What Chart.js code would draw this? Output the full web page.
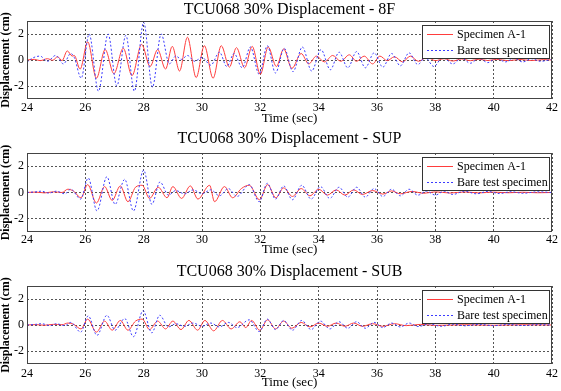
<!DOCTYPE html>
<html><head><meta charset="utf-8">
<script src="https://cdn.jsdelivr.net/npm/chart.js@4.4.1/dist/chart.umd.min.js"></script>
<style>
html,body{margin:0;padding:0;background:#fff;}
#wrap{position:relative;width:561px;height:391px;overflow:hidden;background:#fff;}
.panel{position:absolute;left:0;width:561px;}
canvas{display:block;}
</style></head><body>
<div id="wrap">
  <div class="panel" style="top:0px;height:128px"><canvas id="c1" width="561" height="128"></canvas></div>
  <div class="panel" style="top:128px;height:132px"><canvas id="c2" width="561" height="132"></canvas></div>
  <div class="panel" style="top:260px;height:131px"><canvas id="c3" width="561" height="131"></canvas></div>
</div>
<script>
// ---------- DATA ----------
const panelTitles = ['TCU068 30% Displacement - 8F', 'TCU068 30% Displacement - SUP', 'TCU068 30% Displacement - SUB'];
const seriesLabels = ['Specimen A-1', 'Bare test specimen'];
const xLabel = 'Time (sec)';
const yLabel = 'Displacement (cm)';
const timeTicks = [24, 26, 28, 30, 32, 34, 36, 38, 40, 42];
const dispTicks = [-2, 0, 2];

// 8F - Specimen A-1
const t8F_A = [24.0,24.25,24.45,24.7,24.88,25.05,25.2,25.38,25.55,25.62,25.82,26.08,26.38,26.68,26.98,27.3,27.6,27.93,28.22,28.48,28.75,28.98,29.23,29.5,29.8,30.08,30.38,30.66,30.94,31.18,31.46,31.72,32.0,32.27,32.55,32.8,33.08,33.4,33.66,33.92,34.2,34.48,34.76,35.05,35.3,35.56,35.85,36.1,36.35,36.6,36.88,37.14,37.42,37.72,38.0,38.3,38.6,38.9,39.2,39.5,39.8,40.1,40.5,40.9,41.3,41.7,42.0];
const d8F_A = [0,0.05,-0.05,0.1,-0.02,0.25,-0.05,0.7,0.3,0.35,-0.7,1.4,-1.4,0.8,-1.05,0.9,-1.2,1.2,-0.5,0.8,-0.7,1.05,-0.85,1.75,-1.35,1.1,-1.4,1.1,-0.55,0.95,-0.6,1.05,-1.1,1.0,-0.5,0.85,-0.65,0.5,-0.3,0.3,-0.15,0.35,-0.1,0.4,-0.1,0.3,-0.3,0.3,-0.05,0.25,-0.15,0.3,-0.1,0.2,-0.05,0.1,-0.08,0.08,-0.05,0.06,-0.04,0.05,-0.05,0.04,-0.04,0.03,0];
// 8F - Bare test specimen
const t8F_B = [24.0,24.15,24.45,24.7,24.98,25.25,25.5,25.62,25.86,26.13,26.45,26.78,27.08,27.39,27.68,28.0,28.3,28.6,28.88,29.1,29.3,29.5,29.75,30.0,30.3,30.6,30.85,31.1,31.38,31.66,31.96,32.24,32.52,32.82,33.12,33.44,33.76,34.08,34.4,34.7,35.0,35.3,35.6,35.9,36.2,36.5,36.8,37.1,37.4,37.65,37.95,38.25,38.6,38.9,39.2,39.5,39.8,40.1,40.4,40.7,41.0,41.3,41.6,42.0];
const d8F_B = [-0.2,0.1,0.3,-0.1,0.35,-0.3,0.5,0.2,-1.4,2.0,-2.4,2.0,-2.0,1.9,-2.4,2.9,-2.1,2.0,-0.3,0.3,0.05,0.35,-0.1,0.2,-0.4,0.6,-0.5,0.5,-0.6,1.0,-1.1,1.1,-1.0,0.9,-0.9,1.0,-0.85,0.8,-0.75,0.6,-0.6,0.65,-0.6,0.55,-0.55,0.5,-0.45,0.55,-0.35,0.2,-0.5,0.2,-0.3,0.15,-0.25,0.15,-0.2,0.15,-0.15,0.12,-0.15,0.1,-0.1,0.05];

// SUP - Specimen A-1
const tSUP_A = [24.0,24.3,24.6,24.9,25.2,25.4,25.6,25.85,26.08,26.38,26.66,26.92,27.2,27.46,27.72,27.95,28.2,28.5,28.8,29.0,29.3,29.6,29.86,30.26,30.43,30.77,31.05,31.35,31.62,31.97,32.25,32.53,32.8,33.1,33.4,33.7,34.0,34.3,34.6,34.9,35.2,35.5,35.85,36.2,36.5,36.8,37.2,37.6,38.0,38.5,39.0,39.5,40.0,40.5,41.0,41.5,42.0];
const dSUP_A = [0,0.03,-0.03,0.05,0.0,0.25,0.1,-0.4,0.6,-0.8,0.45,-0.6,0.5,-0.7,0.4,0.55,-0.45,0.4,-0.4,0.45,-0.45,0.5,-0.5,0.55,-0.7,0.45,-0.4,0.3,0.55,-0.55,0.6,-0.4,0.35,-0.3,0.3,-0.25,0.25,-0.2,0.2,-0.2,0.2,-0.15,0.15,-0.12,0.12,-0.1,0.08,-0.06,0.05,-0.04,0.04,-0.03,0.03,-0.02,0.02,-0.02,0];
// SUP - Bare test specimen
const tSUP_B = [24.0,24.3,24.5,24.75,25.0,25.3,25.5,25.84,26.1,26.4,26.74,27.02,27.35,27.65,28.0,28.28,28.56,28.85,29.1,29.4,29.7,30.0,30.3,30.6,30.9,31.2,31.62,31.96,32.24,32.52,32.8,33.1,33.42,33.74,34.06,34.38,34.7,35.0,35.3,35.6,35.9,36.2,36.5,36.8,37.1,37.4,37.7,38.0,38.3,38.6,39.0,39.4,39.8,40.2,40.6,41.0,41.5,42.0];
const dSUP_B = [0,0.05,0.1,-0.05,0.1,-0.1,0.25,-0.5,1.1,-1.4,1.2,-0.9,1.0,-1.4,1.7,-0.9,0.8,-0.2,0.15,-0.1,0.2,-0.1,0.2,-0.25,0.3,-0.3,0.6,-0.7,0.7,-0.5,0.5,-0.55,0.55,-0.5,0.45,-0.45,0.4,-0.35,0.4,-0.35,0.3,-0.3,0.25,-0.25,0.25,-0.2,0.1,-0.2,0.1,-0.15,0.1,-0.1,0.08,-0.08,0.06,-0.06,0.05,0];

// SUB - Specimen A-1
const tSUB_A = [24.0,24.3,24.6,24.9,25.2,25.4,25.6,25.85,26.08,26.38,26.66,26.92,27.2,27.46,27.72,27.95,28.2,28.48,28.75,29.0,29.28,29.55,29.85,30.1,30.4,30.7,31.0,31.3,31.5,31.7,31.98,32.25,32.52,32.8,33.08,33.4,33.7,34.0,34.3,34.6,34.9,35.2,35.5,35.85,36.2,36.6,37.0,37.5,38.0,39.0,40.0,41.0,42.0];
const dSUB_A = [0,0.03,-0.02,0.05,0.02,0.15,0.05,-0.3,0.45,-0.55,0.3,-0.4,0.35,-0.4,0.3,0.45,-0.35,0.3,-0.3,0.3,-0.35,0.35,-0.4,0.35,-0.45,0.35,-0.3,0.25,-0.2,0.35,-0.4,0.4,-0.3,0.3,-0.25,0.2,-0.15,0.15,-0.1,0.15,-0.1,0.15,-0.1,0.1,-0.1,0.1,-0.05,0.05,-0.03,0.02,-0.02,0.02,0];
// SUB - Bare test specimen
const tSUB_B = [24.0,24.3,24.5,24.8,25.0,25.3,25.5,25.84,26.1,26.4,26.74,27.02,27.35,27.65,27.98,28.28,28.55,28.85,29.1,29.4,29.7,30.0,30.3,30.6,30.9,31.2,31.62,31.96,32.24,32.52,32.8,33.1,33.42,33.74,34.06,34.38,34.7,35.0,35.3,35.6,35.9,36.2,36.5,36.8,37.1,37.4,37.8,38.2,38.6,39.0,39.5,40.0,40.5,41.0,41.5,42.0];
const dSUB_B = [0,0.05,0.1,-0.05,0.1,-0.05,0.2,-0.55,0.7,-0.8,0.75,-0.4,0.5,-0.9,1.1,-0.6,0.75,-0.15,0.1,-0.1,0.15,-0.1,0.15,-0.15,0.2,-0.2,0.4,-0.5,0.45,-0.35,0.35,-0.4,0.35,-0.35,0.3,-0.3,0.25,-0.25,0.25,-0.25,0.2,-0.2,0.15,-0.15,0.15,-0.12,0.08,-0.1,0.06,-0.06,0.05,-0.05,0.04,-0.04,0.03,0];

// ---------- STYLE / LAYOUT ----------
const SERIF = '"Liberation Serif", "Times New Roman", serif';
const COLORS = ['#ff3d3d', '#3c3cff'];
const DASHES = [[], [2, 2]];

const panels = [
  {id: 'c1', title: panelTitles[0], tA: t8F_A, dA: d8F_A, tB: t8F_B, dB: d8F_B, titlePad: {top: 0, bottom: 1.8}, xH: 29, tickPad: 2, xPadB: 1.2},
  {id: 'c2', title: panelTitles[1], tA: tSUP_A, dA: dSUP_A, tB: tSUP_B, dB: dSUP_B, titlePad: {top: 1.4, bottom: 4.4}, xH: 28, tickPad: 1, xPadB: 2.2},
  {id: 'c3', title: panelTitles[2], tA: tSUB_A, dA: dSUB_A, tB: tSUB_B, dB: dSUB_B, titlePad: {top: 2.4, bottom: 4.4}, xH: 27, tickPad: 2.5, xPadB: 0.2}
];

const frameLegend = {
  id: 'frameLegend',
  afterDraw(chart) {
    const ctx = chart.ctx, a = chart.chartArea;
    ctx.save();
    // legend box
    const w = 127, h = 33;
    const lx = Math.round(a.right - 3 - w), ly = Math.round(a.top + 4);
    ctx.fillStyle = '#fff';
    ctx.fillRect(lx, ly, w, h);
    ctx.strokeStyle = '#333';
    ctx.lineWidth = 1;
    ctx.setLineDash([]);
    ctx.strokeRect(lx + 0.5, ly + 0.5, w, h);
    chart.data.datasets.forEach((ds, i) => {
      const cy = ly + 9 + i * 16;
      ctx.strokeStyle = COLORS[i];
      ctx.lineWidth = 1;
      ctx.setLineDash(DASHES[i]);
      ctx.beginPath();
      ctx.moveTo(lx + 5, cy + 0.5);
      ctx.lineTo(lx + 31, cy + 0.5);
      ctx.stroke();
      ctx.setLineDash([]);
      ctx.fillStyle = '#000';
      ctx.font = '12px ' + SERIF;
      ctx.textBaseline = 'middle';
      ctx.textAlign = 'left';
      ctx.fillText(ds.label, lx + 35, cy + 1);
    });
    // axes frame
    ctx.strokeStyle = '#444';
    ctx.setLineDash([]);
    const L = Math.round(a.left), T = Math.round(a.top), R = Math.round(a.right), B = Math.round(a.bottom);
    ctx.strokeRect(L + 0.5, T + 0.5, R - L - 1, B - T - 1);
    ctx.restore();
  }
};

panels.forEach(p => {
  const ctx = document.getElementById(p.id).getContext('2d');
  new Chart(ctx, {
    type: 'line',
    data: {
      datasets: [
        {label: seriesLabels[0], data: p.tA.map((t, i) => ({x: t, y: p.dA[i]})),
         borderColor: COLORS[0], borderWidth: 1, pointRadius: 0, fill: false, cubicInterpolationMode: 'monotone', order: 1},
        {label: seriesLabels[1], data: p.tB.map((t, i) => ({x: t, y: p.dB[i]})),
         borderColor: COLORS[1], borderWidth: 1, borderDash: DASHES[1], pointRadius: 0, fill: false, cubicInterpolationMode: 'monotone', order: 0}
      ]
    },
    options: {
      responsive: false,
      animation: false,
      devicePixelRatio: 1,
      layout: {padding: {left: 0, right: 9, top: 0, bottom: 0}},
      plugins: {
        legend: {display: false},
        tooltip: {enabled: false},
        title: {display: true, fullSize: false, text: p.title, color: '#000', font: {family: SERIF, size: 16, weight: 'normal'}, padding: p.titlePad}
      },
      scales: {
        x: {
          type: 'linear', min: 24, max: 42,
          afterBuildTicks: s => { s.ticks = timeTicks.map(v => ({value: v})); },
          afterFit: s => { s.height = p.xH; },
          ticks: {color: '#000', font: {family: SERIF, size: 12}, padding: p.tickPad, maxRotation: 0, autoSkip: false},
          grid: {color: '#555', lineWidth: 1, drawTicks: false},
          border: {display: false, dash: [2, 2]},
          title: {display: true, text: xLabel, color: '#000', font: {family: SERIF, size: 13}, padding: {top: 0, bottom: p.xPadB}}
        },
        y: {
          type: 'linear', min: -3, max: 3,
          afterBuildTicks: s => { s.ticks = dispTicks.map(v => ({value: v})); },
          afterFit: s => { s.width = 27; },
          ticks: {color: '#000', font: {family: SERIF, size: 12}, padding: 3},
          grid: {color: '#555', lineWidth: 1, drawTicks: false},
          border: {display: false, dash: [2, 2]},
          title: {display: true, text: yLabel, color: '#000', font: {family: SERIF, size: 12, weight: 'bold', lineHeight: 1.0}, padding: {top: 0, bottom: 0}}
        }
      }
    },
    plugins: [frameLegend]
  });
});
</script>
</body></html>
